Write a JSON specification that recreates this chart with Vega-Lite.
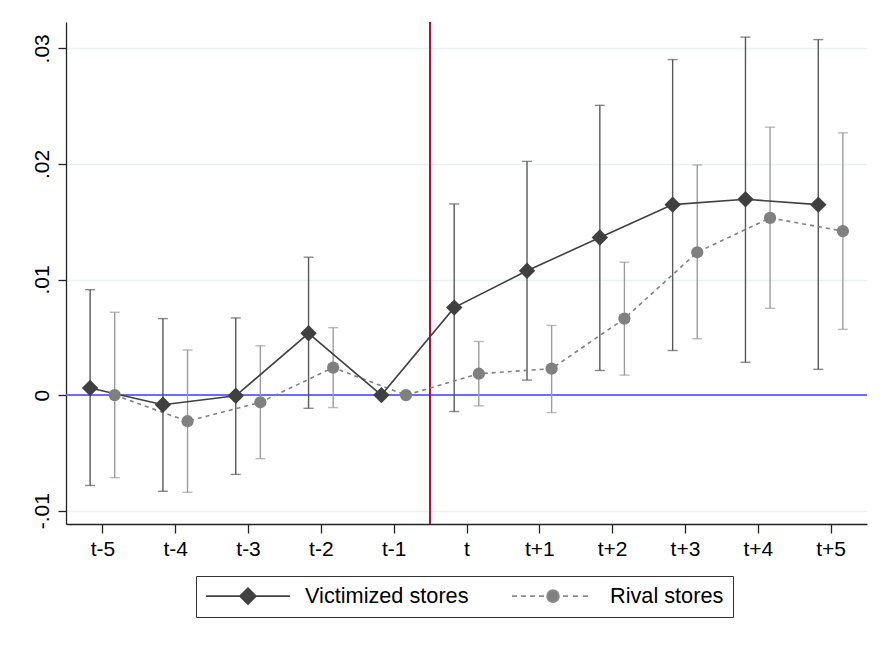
{
  "$schema": "https://vega.github.io/schema/vega-lite/v6.json",
  "description": "Event study estimates for victimized and rival stores",
  "width": 801,
  "height": 502,
  "autosize": {"type": "none"},
  "padding": {"left": 66, "top": 22, "right": 24, "bottom": 124},
  "background": "white",
  "config": {
    "font": "Liberation Sans",
    "view": {"stroke": null},
    "axis": {
      "domainColor": "#222",
      "domainWidth": 1.3,
      "tickColor": "#222",
      "tickWidth": 1.3,
      "labelColor": "#000",
      "labelFontSize": 21,
      "labelFont": "Liberation Sans"
    }
  },
  "data": {
    "values": [
      {"k": -5, "series": "Victimized stores", "b": 0.00062, "lo": -0.00782, "hi": 0.00912},
      {"k": -4, "series": "Victimized stores", "b": -0.00083, "lo": -0.00832, "hi": 0.00662},
      {"k": -3, "series": "Victimized stores", "b": -0.00006, "lo": -0.00686, "hi": 0.00668},
      {"k": -2, "series": "Victimized stores", "b": 0.00535, "lo": -0.00114, "hi": 0.01193},
      {"k": -1, "series": "Victimized stores", "b": 0, "lo": null, "hi": null},
      {"k": 0, "series": "Victimized stores", "b": 0.00757, "lo": -0.00142, "hi": 0.01654},
      {"k": 1, "series": "Victimized stores", "b": 0.01076, "lo": 0.0013, "hi": 0.02022},
      {"k": 2, "series": "Victimized stores", "b": 0.01363, "lo": 0.00213, "hi": 0.02507},
      {"k": 3, "series": "Victimized stores", "b": 0.01648, "lo": 0.00386, "hi": 0.02903},
      {"k": 4, "series": "Victimized stores", "b": 0.01694, "lo": 0.00284, "hi": 0.03097},
      {"k": 5, "series": "Victimized stores", "b": 0.01648, "lo": 0.00223, "hi": 0.03076},
      {"k": -5, "series": "Rival stores", "b": 0, "lo": -0.00714, "hi": 0.00717},
      {"k": -4, "series": "Rival stores", "b": -0.00226, "lo": -0.00841, "hi": 0.0039},
      {"k": -3, "series": "Rival stores", "b": -0.00062, "lo": -0.0055, "hi": 0.00427},
      {"k": -2, "series": "Rival stores", "b": 0.00238, "lo": -0.00108, "hi": 0.00584},
      {"k": -1, "series": "Rival stores", "b": 0, "lo": null, "hi": null},
      {"k": 0, "series": "Rival stores", "b": 0.00185, "lo": -0.00093, "hi": 0.00464},
      {"k": 1, "series": "Rival stores", "b": 0.00229, "lo": -0.00151, "hi": 0.00603},
      {"k": 2, "series": "Rival stores", "b": 0.00662, "lo": 0.00173, "hi": 0.0115},
      {"k": 3, "series": "Rival stores", "b": 0.01236, "lo": 0.00488, "hi": 0.01991},
      {"k": 4, "series": "Rival stores", "b": 0.01533, "lo": 0.00751, "hi": 0.02318},
      {"k": 5, "series": "Rival stores", "b": 0.01419, "lo": 0.00569, "hi": 0.02269}
    ]
  },
  "encoding": {
    "x": {
      "field": "k",
      "type": "quantitative",
      "title": null,
      "scale": {"domain": [-5.5, 5.5], "nice": false, "zero": false},
      "axis": {
        "values": [-5, -4, -3, -2, -1, 0, 1, 2, 3, 4, 5],
        "labelExpr": "datum.value == 0 ? 't' : (datum.value > 0 ? 't+' + datum.value : 't-' + abs(datum.value))",
        "grid": false,
        "tickSize": 9,
        "labelPadding": 5
      }
    }
  },
  "layer": [
    {
      "mark": {"type": "rule", "color": "#6b6bff", "strokeWidth": 1.5},
      "encoding": {"y": {"datum": 0, "type": "quantitative"}, "x": null}
    },
    {
      "mark": {"type": "rule", "color": "#d2002e", "strokeWidth": 1.3},
      "encoding": {"x": {"datum": -0.5, "type": "quantitative"}}
    },
    {
      "transform": [{"filter": "datum.series == 'Rival stores'"}],
      "mark": {"type": "rule", "color": "#9c9c9c", "strokeWidth": 1.4, "xOffset": 12.3},
      "encoding": {"y": {"field": "lo", "type": "quantitative"}, "y2": {"field": "hi"}}
    },
    {
      "transform": [{"filter": "datum.series == 'Rival stores'"}],
      "mark": {"type": "tick", "orient": "horizontal", "color": "#9c9c9c", "size": 10, "thickness": 1.4, "xOffset": 12.3},
      "encoding": {"y": {"field": "lo", "type": "quantitative"}}
    },
    {
      "transform": [{"filter": "datum.series == 'Rival stores'"}],
      "mark": {"type": "tick", "orient": "horizontal", "color": "#9c9c9c", "size": 10, "thickness": 1.4, "xOffset": 12.3},
      "encoding": {"y": {"field": "hi", "type": "quantitative"}}
    },
    {
      "transform": [{"filter": "datum.series == 'Victimized stores'"}],
      "mark": {"type": "rule", "color": "#595959", "strokeWidth": 1.4, "xOffset": -12.3},
      "encoding": {"y": {"field": "lo", "type": "quantitative"}, "y2": {"field": "hi"}}
    },
    {
      "transform": [{"filter": "datum.series == 'Victimized stores'"}],
      "mark": {"type": "tick", "orient": "horizontal", "color": "#595959", "size": 10, "thickness": 1.4, "xOffset": -12.3},
      "encoding": {"y": {"field": "lo", "type": "quantitative"}}
    },
    {
      "transform": [{"filter": "datum.series == 'Victimized stores'"}],
      "mark": {"type": "tick", "orient": "horizontal", "color": "#595959", "size": 10, "thickness": 1.4, "xOffset": -12.3},
      "encoding": {"y": {"field": "hi", "type": "quantitative"}}
    },
    {
      "transform": [{"filter": "datum.series == 'Rival stores'"}],
      "mark": {"type": "line", "color": "#808080", "strokeWidth": 1.6, "strokeDash": [4, 4], "xOffset": 12.3},
      "encoding": {"y": {"field": "b", "type": "quantitative"}}
    },
    {
      "transform": [{"filter": "datum.series == 'Victimized stores'"}],
      "mark": {"type": "line", "color": "#404040", "strokeWidth": 1.6, "xOffset": -12.3},
      "encoding": {"y": {"field": "b", "type": "quantitative"}}
    },
    {
      "transform": [{"filter": "datum.series == 'Rival stores'"}],
      "mark": {"type": "point", "shape": "circle", "filled": true, "opacity": 1, "color": "#808080", "size": 150, "xOffset": 12.3},
      "encoding": {"y": {"field": "b", "type": "quantitative"}}
    },
    {
      "transform": [{"filter": "datum.series == 'Victimized stores'"}],
      "mark": {"type": "point", "shape": "diamond", "filled": true, "opacity": 1, "color": "#404040", "size": 270, "xOffset": -12.3},
      "encoding": {
        "y": {
          "field": "b",
          "type": "quantitative",
          "title": null,
          "scale": {"domain": [-0.01115, 0.03228], "nice": false, "zero": false},
          "axis": {
            "values": [-0.01, 0, 0.01, 0.02, 0.03],
            "labelExpr": "datum.value == 0 ? '0' : (datum.value < 0 ? '-' : '') + replace(format(abs(datum.value), '.2f'), '0.', '.')",
            "grid": true,
            "gridColor": "#e9f1f3",
            "gridWidth": 1.4,
            "tickSize": 8,
            "labelAngle": 270,
            "labelAlign": "center",
            "labelBaseline": "bottom",
            "labelPadding": 6
          }
        }
      }
    },
    {
      "transform": [{"filter": "false"}],
      "mark": {"type": "point", "opacity": 1, "size": 400, "strokeWidth": 1.6},
      "encoding": {
        "y": {"field": "b", "type": "quantitative"},
        "fill": {
          "field": "series",
          "type": "nominal",
          "scale": {"domain": ["Victimized stores", "Rival stores"], "range": ["#404040", "#808080"]}
        },
        "stroke": {
          "field": "series",
          "type": "nominal",
          "scale": {"domain": ["Victimized stores", "Rival stores"], "range": ["#404040", "#8c8c8c"]}
        },
        "shape": {
          "field": "series",
          "type": "nominal",
          "scale": {
            "domain": ["Victimized stores", "Rival stores"],
            "range": [
              "M-4.2,0H4.2M-0.8,0L0,-0.8L0.8,0L0,0.8Z",
              "M-4.1,0H-3.6M-3.2,0H-2.7M-2.3,0H-1.8M-1.4,0H-0.9M1,0H1.5M2,0H2.5M3,0H3.5M0.6,0A0.6,0.6 0 1,1 -0.6,0A0.6,0.6 0 1,1 0.6,0Z"
            ]
          },
          "legend": {
            "title": null,
            "orient": "none",
            "legendX": 130,
            "legendY": 554,
            "direction": "horizontal",
            "strokeColor": "#333",
            "padding": 9,
            "columnPadding": 39,
            "symbolOffset": 32,
            "labelOffset": 46,
            "labelLimit": 0,
            "labelFontSize": 21.7,
            "labelFont": "Liberation Sans",
            "labelColor": "#000",
            "symbolSize": 400,
            "symbolStrokeWidth": 1.6,
            "symbolOpacity": 1
          }
        }
      }
    }
  ]
}
